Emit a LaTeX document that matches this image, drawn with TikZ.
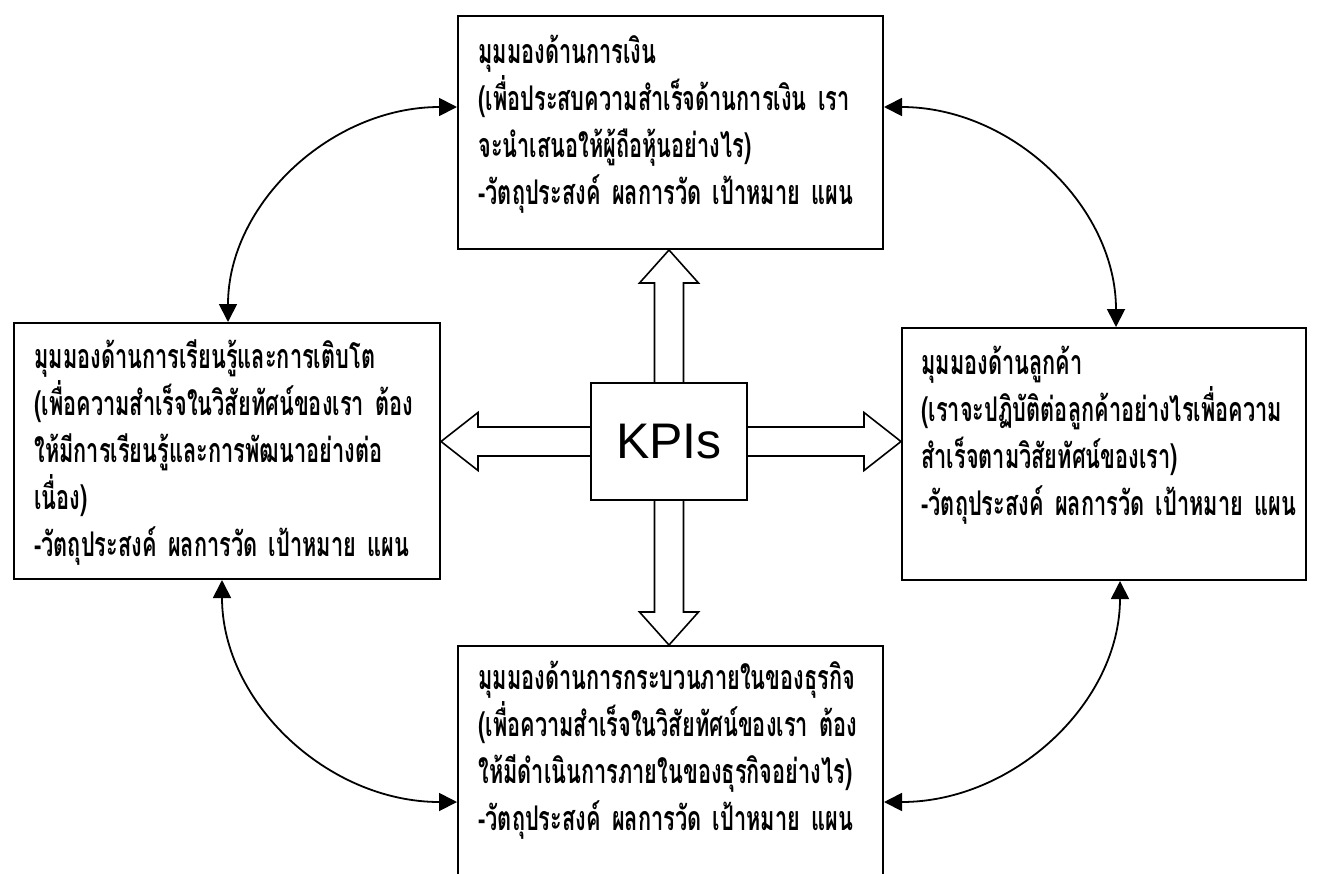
\documentclass[tikz,border=0pt]{standalone}
\usepackage{fontspec}
\setmainfont{Liberation Serif}
\newfontfamily\thaifont[Script=Thai,FakeStretch=0.64]{Loma}
\newfontfamily\kpifont{Liberation Sans}
\usetikzlibrary{arrows.meta,calc}
\tikzset{
  box/.style={draw, line width=1pt, inner sep=0pt, anchor=north west},
  boxtext/.style={anchor=base west, inner sep=0pt, text width=300pt, align=left,
    font=\thaifont\bfseries\fontsize{17pt}{23.5pt}\selectfont},
  curvearr/.style={line width=0.9pt, {Triangle[length=9pt,width=9pt]}-{Triangle[length=9pt,width=9pt]}},
  blockarr/.style={line width=0.8pt, line join=miter},
}
\begin{document}
\begin{tikzpicture}[x=0.5pt,y=-0.5pt]
\useasboundingbox (0,0) rectangle (1321,873);
\clip (0,0) rectangle (1321,873);
\fill[white] (0,0) rectangle (1321,873);

% boxes
\node[box, minimum width=212.5pt, minimum height=116.5pt] (top) at (457,15) {};
\node[box, minimum width=213pt, minimum height=128pt] (left) at (13,322) {};
\node[box, minimum width=202pt, minimum height=126pt] (right) at (901,327) {};
\node[box, minimum width=212.5pt, minimum height=150pt] (bottom) at (457,645) {};
\node[box, anchor=center, minimum width=78pt, minimum height=58.5pt,
  font=\kpifont\fontsize{25pt}{28pt}\selectfont] (kpi) at (669,441.5) {KPIs};

% texts
\node[boxtext] (toptext) at (478,63) {มุมมองด้านการเงิน\\
(เพื่อประสบความสำเร็จด้านการเงิน เรา\\
จะนำเสนอให้ผู้ถือหุ้นอย่างไร)\\
-วัตถุประสงค์ ผลการวัด เป้าหมาย แผน};
\node[boxtext] (lefttext) at (34,368) {มุมมองด้านการเรียนรู้และการเติบโต\\
(เพื่อความสำเร็จในวิสัยทัศน์ของเรา ต้อง\\
ให้มีการเรียนรู้และการพัฒนาอย่างต่อ\\
เนื่อง)\\
-วัตถุประสงค์ ผลการวัด เป้าหมาย แผน};
\node[boxtext] (righttext) at (921,374) {มุมมองด้านลูกค้า\\
(เราจะปฏิบัติต่อลูกค้าอย่างไรเพื่อความ\\
สำเร็จตามวิสัยทัศน์ของเรา)\\
-วัตถุประสงค์ ผลการวัด เป้าหมาย แผน};
\node[boxtext] (bottomtext) at (478,689) {มุมมองด้านการกระบวนภายในของธุรกิจ\\
(เพื่อความสำเร็จในวิสัยทัศน์ของเรา ต้อง\\
ให้มีดำเนินการภายในของธุรกิจอย่างไร)\\
-วัตถุประสงค์ ผลการวัด เป้าหมาย แผน};

% block arrows
\coordinate (tU) at (kpi.north |- top.south);
\coordinate (tD) at (kpi.south |- bottom.north);
\coordinate (tL) at (kpi.west -| left.east);
\coordinate (tR) at (kpi.east -| right.west);
\draw[blockarr] ($(kpi.north)+(-14.5,0)$) -- ($(tU)+(-14.5,33)$) -- ++(-15,0) -- (tU)
  -- ($(tU)+(29.5,33)$) -- ++(-15,0) -- ($(kpi.north)+(14.5,0)$);
\draw[blockarr] ($(kpi.south)+(-14.5,0)$) -- ($(tD)+(-14.5,-33)$) -- ++(-15,0) -- (tD)
  -- ($(tD)+(29.5,-33)$) -- ++(-15,0) -- ($(kpi.south)+(14.5,0)$);
\draw[blockarr] ($(kpi.west)+(0,-14.5)$) -- ($(tL)+(37,-14.5)$) -- ++(0,-14.5) -- (tL)
  -- ($(tL)+(37,29)$) -- ++(0,-14.5) -- ($(kpi.west)+(0,14.5)$);
\draw[blockarr] ($(kpi.east)+(0,-14.5)$) -- ($(tR)+(-37,-14.5)$) -- ++(0,-14.5) -- (tR)
  -- ($(tR)+(-37,29)$) -- ++(0,-14.5) -- ($(kpi.east)+(0,14.5)$);

% curved double arrows
\coordinate (tlA) at ($(left.north)+(1,0)$);
\coordinate (tlB) at ($(top.north west)+(0,92)$);
\coordinate (tlC) at (tlA |- tlB);
\coordinate (trA) at ($(right.north)+(12,0)$);
\coordinate (trB) at ($(top.north east)+(0,92)$);
\coordinate (trC) at (trA |- trB);
\coordinate (blA) at ($(left.south)+(-5,0)$);
\coordinate (blB) at ($(bottom.north west)+(0,157)$);
\coordinate (blC) at (blA |- blB);
\coordinate (brA) at ($(right.south)+(16,0)$);
\coordinate (brB) at ($(bottom.north east)+(0,157)$);
\coordinate (brC) at (brA |- brB);
\draw[curvearr] (tlA) .. controls ($(tlA)!0.55!(tlC)$) and ($(tlB)!0.55!(tlC)$) .. (tlB);
\draw[curvearr] (trA) .. controls ($(trA)!0.55!(trC)$) and ($(trB)!0.55!(trC)$) .. (trB);
\draw[curvearr] (blA) .. controls ($(blA)!0.55!(blC)$) and ($(blB)!0.55!(blC)$) .. (blB);
\draw[curvearr] (brA) .. controls ($(brA)!0.55!(brC)$) and ($(brB)!0.55!(brC)$) .. (brB);
\end{tikzpicture}
\end{document}
